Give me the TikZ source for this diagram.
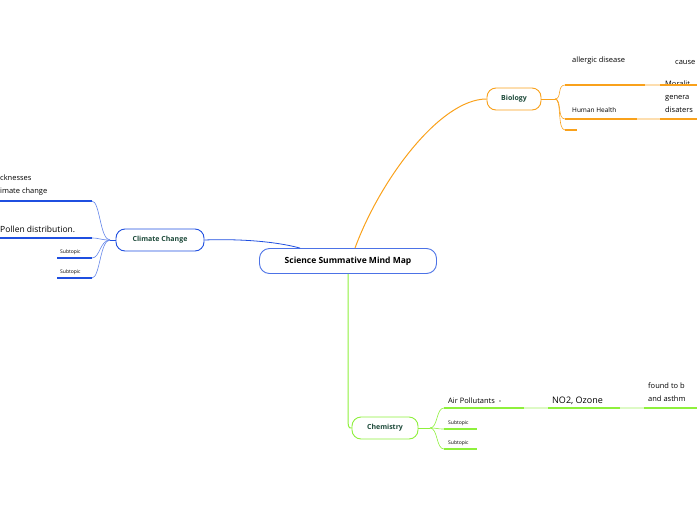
\documentclass[tikz,border=0pt]{standalone}
\usepackage{fontspec}
\setmainfont{Open Sans}
\usetikzlibrary{positioning}
\definecolor{bioorange}{HTML}{F9A11B}
\definecolor{climblue}{HTML}{1F4FE0}
\definecolor{chemgreen}{HTML}{8EF03C}
\definecolor{labelgreen}{HTML}{1D4A3A}
\begin{document}
\begin{tikzpicture}[x=1pt,y=-1pt,
    topic/.style={draw, rounded corners=9pt, line width=0.9pt, fill=white,
        inner xsep=10pt, minimum height=22pt, text=labelgreen, font=\bfseries\fontsize{7}{8}\selectfont},
    central/.style={topic, rounded corners=10pt, minimum height=25pt, text=black, font=\bfseries\fontsize{8.5}{10}\selectfont},
    leaf/.style={anchor=base west, inner sep=0pt, font=\fontsize{7.5}{9}\selectfont},
    small/.style={anchor=base west, inner sep=0pt, font=\fontsize{5}{6}\selectfont},
    big/.style={anchor=base west, inner sep=0pt, font=\fontsize{9}{11}\selectfont},
    multi/.style={anchor=west, inner sep=0pt, align=left, font=\fontsize{7.5}{13}\selectfont},
    uline/.style={line width=1.4pt}]
\useasboundingbox (0,0) rectangle (697,520);

% Main topics
\node[central, draw=climblue!80, minimum width=177pt] (main) at (348,261) {Science Summative Mind Map};
\node[topic, draw=bioorange, minimum width=54pt] (bio) at (514,99) {Biology};
\node[topic, draw=climblue, minimum width=88pt] (clim) at (160,240) {Climate Change};
\node[topic, draw=chemgreen, minimum width=66pt] (chem) at (385,428) {Chemistry};

% Connections to main
\draw[bioorange, line width=1pt] (main.north) ++(7,0) .. controls (380,180) and (440,99) .. (bio.west);
\draw[climblue, line width=0.8pt] (main.north) ++(-48,0) .. controls (270,240) and (230,239) .. (clim.east);
\draw[chemgreen, line width=1pt] (main.south) -- (348,410) .. controls (348,428) .. (chem.west);

% Biology
\coordinate (bj) at (555,99);
\draw[bioorange] (bio.east) -- (bj);
\node[leaf] (allergic) at (572,62) {allergic disease};
\node[leaf] (cause) at (675,64) {cause};
\node[small, font=\fontsize{6.5}{8}\selectfont] (health) at (572,112) {Human Health};
\node[multi] (moral) at (665,97) {Moralit\\genera\\disaters};
\draw[bioorange, line width=0.6pt] (bj) .. controls (562,99) and (557,85) .. (565,85);
\draw[bioorange, line width=0.6pt] (bj) .. controls (562,99) and (557,119) .. (565,119);
\draw[bioorange, line width=0.6pt] (bj) .. controls (562,99) and (557,130) .. (565,130);
\draw[bioorange, uline] (565,85) -- (645,85);
\draw[bioorange!35, uline] (645,85) -- (660,85);
\draw[bioorange, uline] (660,85) -- (697,85);
\draw[bioorange, uline] (565,119) -- (637,119);
\draw[bioorange!35, uline] (637,119) -- (660,119);
\draw[bioorange, uline] (660,119) -- (697,119);
\draw[bioorange, uline] (565,130) -- (577,130);

% Climate change
\coordinate (cj) at (110,240);
\draw[climblue] (clim.west) -- (cj);
\node[multi] (sick) at (0,185) {cknesses\\imate change};
\node[leaf, font=\fontsize{8.5}{10}\selectfont] (pollen) at (0,232) {Pollen distribution.};
\node[small] (csubA) at (60,253) {Subtopic};
\node[small] (csubB) at (60,273) {Subtopic};
\foreach \y in {201,238,258,278}
  \draw[climblue!70, line width=0.6pt] (cj) .. controls (100,240) and (100,\y) .. (92,\y);
\draw[climblue, uline] (0,201) -- (92,201);
\draw[climblue, uline] (0,238) -- (92,238);
\draw[climblue, uline] (57,258) -- (92,258);
\draw[climblue, uline] (57,278) -- (92,278);

% Chemistry
\coordinate (hj) at (430,428);
\draw[chemgreen] (chem.east) -- (hj);
\node[leaf] (air) at (448,403) {Air Pollutants\ \ -};
\node[big] (no2) at (552,403) {NO2, Ozone};
\node[multi] (found) at (648,392) {found to b\\and asthm};
\node[small] (hsubA) at (448,424) {Subtopic};
\node[small] (hsubB) at (448,444) {Subtopic};
\foreach \y in {408,429,449}
  \draw[chemgreen, line width=0.6pt] (hj) .. controls (438,428) and (436,\y) .. (444,\y);
\draw[chemgreen, uline] (444,408) -- (524,408);
\draw[chemgreen!30, uline] (524,408) -- (548,408);
\draw[chemgreen, uline] (548,408) -- (620,408);
\draw[chemgreen!30, uline] (620,408) -- (644,408);
\draw[chemgreen, uline] (644,408) -- (697,408);
\draw[chemgreen, uline] (444,429) -- (477,429);
\draw[chemgreen, uline] (444,449) -- (477,449);
\end{tikzpicture}
\end{document}
